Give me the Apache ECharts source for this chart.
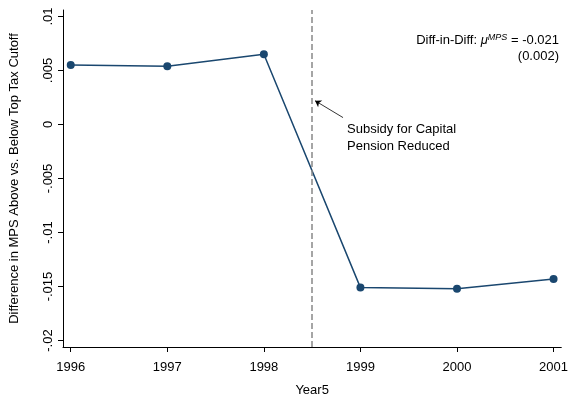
<!DOCTYPE html>
<html><head><meta charset="utf-8">
<script src="https://cdn.jsdelivr.net/npm/echarts@6/dist/echarts.min.js"></script>
<style>html,body{margin:0;padding:0;background:#fff}#main{width:571px;height:402px}</style>
</head><body><div id="main"></div>
<script>
var years = [1996, 1997, 1998, 1999, 2000, 2001];
var mpsDiff = [0.0055, 0.0054, 0.0065, -0.0151, -0.0152, -0.0143];
var yTicks = [-0.02, -0.015, -0.01, -0.005, 0, 0.005, 0.01];
var reformYear = 1998.5;

function fmt(v){
  if (Math.abs(v) < 1e-9) return '0';
  var s = String(+v.toFixed(3));
  return s.replace('0.', '.');
}

var chart = echarts.init(document.getElementById('main'));
chart.setOption({
  animation: false,
  textStyle: {fontFamily: 'Liberation Sans, Arial'},
  grid: {left: 62, right: 6, top: 10, bottom: 52},
  xAxis: {
    type: 'value', min: 1995.92, max: 2001.08, interval: 1,
    name: 'Year5', nameLocation: 'middle', nameGap: 37,
    nameTextStyle: {fontSize: 13, color: '#000'},
    axisLine: {onZero: false, lineStyle: {color: '#000'}},
    axisLabel: {color: '#000', fontSize: 13, margin: 14, customValues: years, formatter: function(v){return String(v);}},
    axisTick: {length: 5, lineStyle: {color: '#000'}, customValues: years},
    splitLine: {show: false}
  },
  yAxis: {
    type: 'value', min: -0.0206, max: 0.0106,
    name: 'Difference in MPS Above vs. Below Top Tax Cutoff',
    nameLocation: 'middle', nameGap: 42,
    nameTextStyle: {fontSize: 13, color: '#000'},
    axisLine: {show: true, onZero: false, lineStyle: {color: '#000'}},
    axisTick: {show: true, length: 5, lineStyle: {color: '#000'}, customValues: yTicks},
    axisLabel: {color: '#000', fontSize: 13, rotate: 90, formatter: fmt, customValues: yTicks},
    splitLine: {show: false}
  },
  series: [{
    type: 'line',
    data: years.map(function(y, i){ return [y, mpsDiff[i]]; }),
    symbol: 'circle', symbolSize: 8,
    lineStyle: {color: '#1a476f', width: 1.5},
    itemStyle: {color: '#1a476f'},
    markLine: {
      silent: true, label: {show: false}, symbol: 'none',
      data: [{xAxis: reformYear}],
      lineStyle: {color: '#888', type: 'dashed', width: 1.5}
    }
  }, {
    type: 'line', data: [], symbol: 'none',
    markLine: {
      silent: true, label: {show: false},
      data: [[{coord: [1998.82, 0.00064], symbol: 'none'}, {coord: [1998.53, 0.0022], symbol: 'arrow', symbolSize: 6}]],
      lineStyle: {color: '#000', type: 'solid', width: 0.8}
    }
  }],
  graphic: [
    {type: 'text', left: 347, top: 121, style: {text: 'Subsidy for Capital\nPension Reduced', font: '13px Liberation Sans', fill: '#000', lineHeight: 17}},
    {type: 'text', right: 12, top: 33, style: {text: 'Diff-in-Diff: {i|μ}{s|MPS} = -0.021', font: '13px Liberation Sans', fill: '#000',
      rich: {i: {fontStyle: 'italic', fontSize: 13}, s: {fontStyle: 'italic', fontSize: 9, verticalAlign: 'top', padding: [0,0,6,0]}}}},
    {type: 'text', right: 12, top: 50, style: {text: '(0.002)', font: '13px Liberation Sans', fill: '#000'}}
  ]
});
</script></body></html>
